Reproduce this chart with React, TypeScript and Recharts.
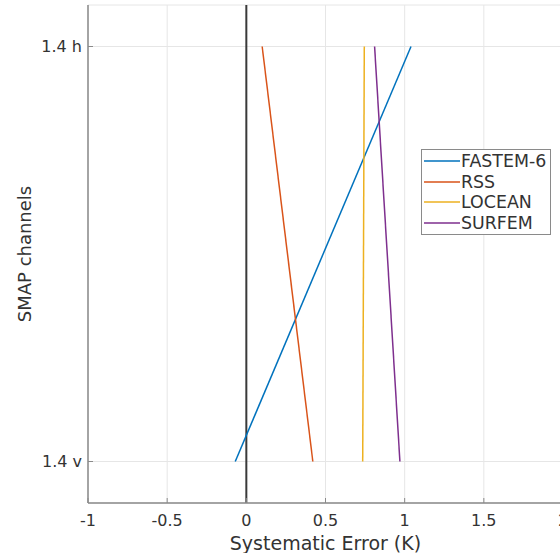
import React from 'react';
import { LineChart, Line, XAxis, YAxis, CartesianGrid, ReferenceLine, Legend } from 'recharts';

// channel positions on the y axis (0 = bottom, 1 = top)
const channelPos = [0, 1];
const channelLabels = ['1.4 v', '1.4 h'];

// systematic error (K) per channel, in the order of channelPos
const fastem6 = [-0.07, 1.04];
const rss = [0.42, 0.1];
const locean = [0.735, 0.745];
const surfem = [0.97, 0.81];

const xTicks = [-1, -0.5, 0, 0.5, 1, 1.5, 2];

const seriesNames = ['FASTEM-6', 'RSS', 'LOCEAN', 'SURFEM'];
const seriesColors = ['#0072BD', '#D95319', '#EDB120', '#7E2F8E'];

const rows = channelPos.map((pos, i) => ({
  pos,
  'FASTEM-6': fastem6[i],
  RSS: rss[i],
  LOCEAN: locean[i],
  SURFEM: surfem[i],
}));

const FONT = '"DejaVu Sans", sans-serif';
const TEXT = '#333333';
const FRAME = '#8a8a8a';

const BoxLegend = () => (
  <div
    style={{
      border: '1px solid #8a8a8a',
      background: '#fff',
      padding: '1px 4px 1px 2px',
      fontFamily: FONT,
      fontSize: 17.4,
      color: TEXT,
      lineHeight: '20.5px',
    }}
  >
    {seriesNames.map((name, i) => (
      <div key={name} style={{ display: 'flex', alignItems: 'center' }}>
        <svg width={36} height={4} style={{ marginRight: 1 }}>
          <line x1={0} y1={2} x2={36} y2={2} stroke={seriesColors[i]} strokeWidth={1.5} />
        </svg>
        <span>{name}</span>
      </div>
    ))}
  </div>
);

export default function App() {
  return (
    <div
      style={{
        position: 'absolute',
        left: 0,
        top: 0,
        width: 560,
        height: 553,
        overflow: 'hidden',
        background: '#fff',
      }}
    >
      <LineChart
        width={600}
        height={553}
        data={rows}
        layout="vertical"
        margin={{ top: 5, right: 37, bottom: 0, left: 0 }}
      >
        <CartesianGrid stroke="#e6e6e6" strokeWidth={1} />
        <XAxis
          type="number"
          xAxisId="top"
          orientation="top"
          domain={[-1, 2]}
          ticks={xTicks}
          height={0}
          tick={false}
          tickSize={-5}
          axisLine={{ stroke: FRAME, strokeWidth: 1.5 }}
          tickLine={{ stroke: FRAME }}
        />
        <XAxis
          type="number"
          domain={[-1, 2]}
          ticks={xTicks}
          height={50}
          tickSize={-5}
          tickMargin={17}
          interval={0}
          tick={{ fontSize: 16, fill: TEXT, fontFamily: FONT }}
          axisLine={{ stroke: FRAME, strokeWidth: 1.5 }}
          tickLine={{ stroke: FRAME }}
          label={{
            value: 'Systematic Error (K)',
            position: 'insideBottom',
            offset: 3,
            fontSize: 19,
            fill: TEXT,
            fontFamily: FONT,
          }}
        />
        <YAxis
          type="number"
          dataKey="pos"
          reversed
          domain={[-0.1, 1.1]}
          ticks={channelPos}
          tickFormatter={(v: number) => channelLabels[channelPos.indexOf(v)]}
          width={88}
          tickSize={-5}
          tickMargin={11}
          tick={{ fontSize: 16, fill: TEXT, fontFamily: FONT }}
          axisLine={{ stroke: FRAME, strokeWidth: 1.5 }}
          tickLine={{ stroke: FRAME }}
          label={{
            value: 'SMAP channels',
            angle: -90,
            position: 'center',
            dx: -19,
            fontSize: 18,
            fill: TEXT,
            fontFamily: FONT,
          }}
        />
        <ReferenceLine x={0} stroke="#3a3a3a" strokeWidth={2} />
        {seriesNames.map((name, i) => (
          <Line
            key={name}
            dataKey={name}
            stroke={seriesColors[i]}
            strokeWidth={1.5}
            dot={false}
            isAnimationActive={false}
          />
        ))}
        <Legend
          content={<BoxLegend />}
          layout="vertical"
          align="center"
          verticalAlign="middle"
          wrapperStyle={{ left: 421, top: 149, width: 'auto' }}
        />
      </LineChart>
    </div>
  );
}
